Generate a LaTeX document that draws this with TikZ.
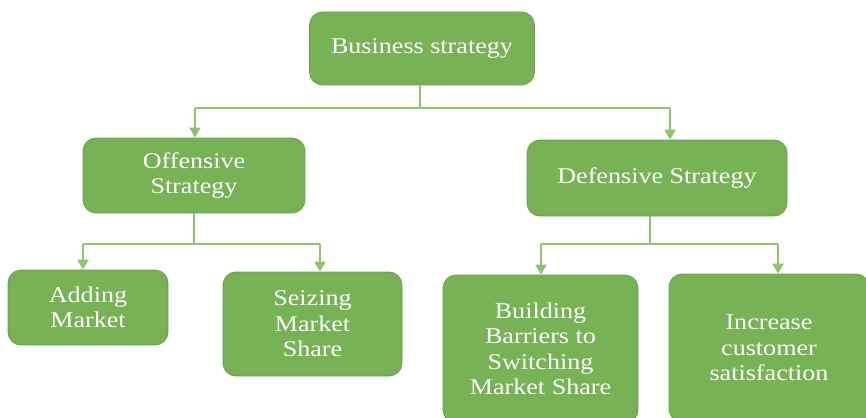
\documentclass[tikz,border=0pt]{standalone}
\usepackage{fontspec}
\setmainfont{Liberation Serif}[FakeStretch=1.16]
\usepackage{xcolor}
\usetikzlibrary{arrows.meta,positioning}
\definecolor{color_box_fill}{HTML}{77B255}
\definecolor{color_box_line}{HTML}{6A9F4A}
\definecolor{color_link}{HTML}{8BC66A}

\tikzset{
	stratbox/.style={draw=color_box_line,line width=0.8pt,fill=color_box_fill,
		rounded corners=13pt,text=white,align=center,inner sep=4pt,
		font=\fontsize{22.5}{25.5}\selectfont},
	link/.style={color_link,line width=1.8pt},
	linkarrow/.style={link,-{Triangle[length=10pt,width=11pt]}}
}

\begin{document}
\begin{tikzpicture}[x=1pt,y=-1pt]
				\useasboundingbox (0, 0) rectangle (866, 417);
				% Points
				\coordinate (TopSplit) at (420, 108);
				\coordinate (TopL) at (195, 108);
				\coordinate (TopR) at (670, 108);
				\coordinate (OffSplit) at (194, 244);
				\coordinate (OffL) at (83, 244);
				\coordinate (OffR) at (320, 244);
				\coordinate (DefSplit) at (650, 244);
				\coordinate (DefL) at (541, 244);
				\coordinate (DefR) at (778, 244);

				% Boxes
				\node[stratbox,minimum width=225pt,minimum height=73pt] (business) at (422, 48.5) {Business strategy};
				\node[stratbox,minimum width=222pt,minimum height=75pt] (offensive) at (194, 175.5) {Offensive\\Strategy};
				\node[stratbox,minimum width=260pt,minimum height=76pt] (defensive) at (657, 178) {Defensive Strategy};
				\node[stratbox,minimum width=160pt,minimum height=75pt] (adding) at (88, 307.5) {Adding\\Market};
				\node[stratbox,minimum width=179pt,minimum height=104pt] (seizing) at (312.5, 324) {Seizing\\Market\\Share};
				\node[stratbox,minimum width=195pt,minimum height=148pt] (building) at (540.5, 349) {Building\\Barriers to\\Switching\\Market Share};
				\node[stratbox,minimum width=200pt,minimum height=148pt] (increase) at (769, 348) {Increase\\customer\\satisfaction};

				% Links from the top
				\draw[link] (business.south -| TopSplit) -- (TopSplit);
				\draw[link] (TopL) -- (TopR);
				\draw[linkarrow] (TopL) -- (TopL |- offensive.north);
				\draw[linkarrow] (TopR) -- (TopR |- defensive.north);

				% Offensive side
				\draw[link] (offensive.south -| OffSplit) -- (OffSplit);
				\draw[link] (OffL) -- (OffR);
				\draw[linkarrow] (OffL) -- (OffL |- adding.north);
				\draw[linkarrow] (OffR) -- (OffR |- seizing.north);

				% Defensive side
				\draw[link] (defensive.south -| DefSplit) -- (DefSplit);
				\draw[link] (DefL) -- (DefR);
				\draw[linkarrow] (DefL) -- (DefL |- building.north);
				\draw[linkarrow] (DefR) -- (DefR |- increase.north);
\end{tikzpicture}
\end{document}
